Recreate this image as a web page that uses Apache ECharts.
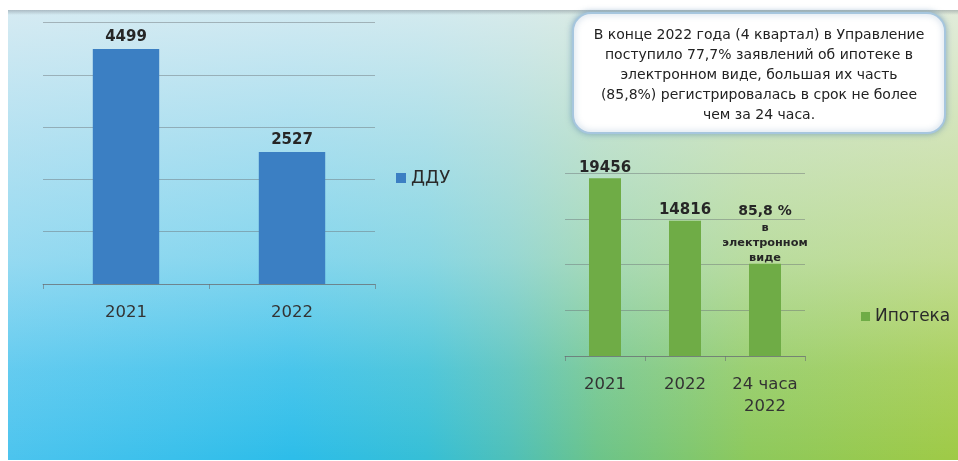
<!DOCTYPE html>
<html>
<head>
<meta charset="utf-8">
<script src="https://cdn.jsdelivr.net/npm/echarts@6/dist/echarts.min.js"></script>
<style>
html,body{margin:0;padding:0;background:#fff;}
#chart{width:958px;height:461px;}
</style>
</head>
<body>
<div id="chart"></div>
<script>
// ---- data ----
var dduCategories = ['2021', '2022'];
var dduValues = [4499, 2527];
var dduName = 'ДДУ';

var ipotekaCategories = ['2021', '2022', '24 часа\n2022'];
var ipotekaValues = [19456, 14816, 10100];
var ipotekaName = 'Ипотека';
var ipotekaThirdLabel = ['85,8 %', 'в', 'электронном', 'виде'];

var noteLines = [
  'В конце 2022 года (4 квартал) в Управление',
  'поступило 77,7% заявлений об ипотеке в',
  'электронном виде, большая их часть',
  '(85,8%) регистрировалась в срок не более',
  'чем за 24 часа.'
];

// ---- chart ----
var FONT = 'DejaVu Sans';
var chart = echarts.init(document.getElementById('chart'), null, {renderer: 'canvas'});

var gridLine = {lineStyle: {color: 'rgba(105,110,115,0.45)', width: 1}};
var axisLineStyle = {lineStyle: {color: 'rgba(105,110,115,0.6)', width: 1}};

var option = {
  animation: false,
  backgroundColor: '#ffffff',
  graphic: [
    {
      type: 'rect', z: -20, silent: true,
      shape: {x: 8, y: 10, width: 950, height: 450},
      style: {
        fill: new echarts.graphic.LinearGradient(0, 0, 1, 0, [
          {offset: 0, color: '#4cc4ee'},
          {offset: 0.3, color: '#2dbde9'},
          {offset: 0.44, color: '#36bfd6'},
          {offset: 0.53, color: '#4fc0b8'},
          {offset: 0.62, color: '#6cc48a'},
          {offset: 0.78, color: '#8dc95c'},
          {offset: 1, color: '#9fca46'}
        ])
      }
    },
    {
      type: 'rect', z: -19, silent: true,
      shape: {x: 8, y: 10, width: 950, height: 450},
      style: {
        fill: new echarts.graphic.LinearGradient(0, 0, 0, 1, [
          {offset: 0, color: 'rgba(236,241,243,0.86)'},
          {offset: 0.3, color: 'rgba(236,241,243,0.64)'},
          {offset: 0.55, color: 'rgba(240,244,244,0.45)'},
          {offset: 0.8, color: 'rgba(245,248,248,0.14)'},
          {offset: 1, color: 'rgba(255,255,255,0)'}
        ])
      }
    },
    {
      type: 'rect', z: -18, silent: true,
      shape: {x: 8, y: 10, width: 950, height: 5},
      style: {
        fill: new echarts.graphic.LinearGradient(0, 0, 0, 1, [
          {offset: 0, color: 'rgba(120,130,140,0.45)'},
          {offset: 1, color: 'rgba(120,130,140,0)'}
        ])
      }
    },
    {
      type: 'rect', z: 50, silent: true,
      shape: {x: 573, y: 13, width: 372, height: 120, r: 18},
      style: {
        fill: '#ffffff',
        stroke: '#a6c6de',
        lineWidth: 2,
        shadowBlur: 6,
        shadowColor: 'rgba(70,120,170,0.5)'
      }
    },
    {
      type: 'text', z: 51, silent: true,
      x: 759, y: 75,
      style: {
        text: noteLines.join('\n'),
        font: '14px "' + FONT + '"',
        fill: '#222222',
        align: 'center',
        verticalAlign: 'middle',
        lineHeight: 20
      }
    }
  ],
  legend: [
    {
      data: [dduName],
      left: 391, top: 164,
      icon: 'rect', itemWidth: 10, itemHeight: 10,
      textStyle: {fontFamily: FONT, fontSize: 18, color: '#2a2a2a'}
    },
    {
      data: [ipotekaName],
      left: 856, top: 303,
      icon: 'rect', itemWidth: 9, itemHeight: 9,
      textStyle: {fontFamily: FONT, fontSize: 17, color: '#2a2a2a'}
    }
  ],
  grid: [
    {left: 43, top: 22.7, width: 332, height: 261.3},
    {left: 565, top: 173.3, width: 240, height: 182.7}
  ],
  xAxis: [
    {
      type: 'category', gridIndex: 0, data: dduCategories,
      axisLine: axisLineStyle,
      axisTick: {show: true, length: 5, lineStyle: axisLineStyle.lineStyle},
      axisLabel: {interval: 0, fontFamily: FONT, fontSize: 16.5, color: '#333333', margin: 18, lineHeight: 22}
    },
    {
      type: 'category', gridIndex: 1, data: ipotekaCategories,
      axisLine: axisLineStyle,
      axisTick: {show: true, length: 5, lineStyle: axisLineStyle.lineStyle},
      axisLabel: {interval: 0, hideOverlap: false, fontFamily: FONT, fontSize: 16.5, color: '#333333', margin: 18, lineHeight: 22}
    }
  ],
  yAxis: [
    {
      type: 'value', gridIndex: 0, min: 0, max: 5000, interval: 1000,
      axisLabel: {show: false}, axisLine: {show: false}, axisTick: {show: false},
      splitLine: gridLine
    },
    {
      type: 'value', gridIndex: 1, min: 0, max: 20000, interval: 5000,
      axisLabel: {show: false}, axisLine: {show: false}, axisTick: {show: false},
      splitLine: gridLine
    }
  ],
  series: [
    {
      name: dduName, type: 'bar', xAxisIndex: 0, yAxisIndex: 0,
      data: dduValues, barWidth: '40%',
      itemStyle: {color: '#3b7fc3'},
      label: {
        show: true, position: 'top', distance: 4,
        fontFamily: FONT, fontSize: 15, fontWeight: 'bold', color: '#262626'
      }
    },
    {
      name: ipotekaName, type: 'bar', xAxisIndex: 1, yAxisIndex: 1,
      data: ipotekaValues.map(function (v, i) {
        if (i === 2) {
          return {
            value: v,
            label: {
              offset: [0, 2], distance: 0,
              formatter: '{a|' + ipotekaThirdLabel[0] + '}\n' +
                ipotekaThirdLabel.slice(1).map(function (s) { return '{b|' + s + '}'; }).join('\n'),
              rich: {
                a: {fontFamily: FONT, fontSize: 14, fontWeight: 'bold', color: '#262626', lineHeight: 18},
                b: {fontFamily: FONT, fontSize: 11.3, fontWeight: 'bold', color: '#262626', lineHeight: 15}
              }
            }
          };
        }
        return v;
      }),
      barWidth: '40%',
      itemStyle: {color: '#6fac46'},
      label: {
        show: true, position: 'top', distance: 3,
        fontFamily: FONT, fontSize: 15, fontWeight: 'bold', color: '#262626'
      }
    }
  ]
};
chart.setOption(option);
</script>
</body>
</html>
